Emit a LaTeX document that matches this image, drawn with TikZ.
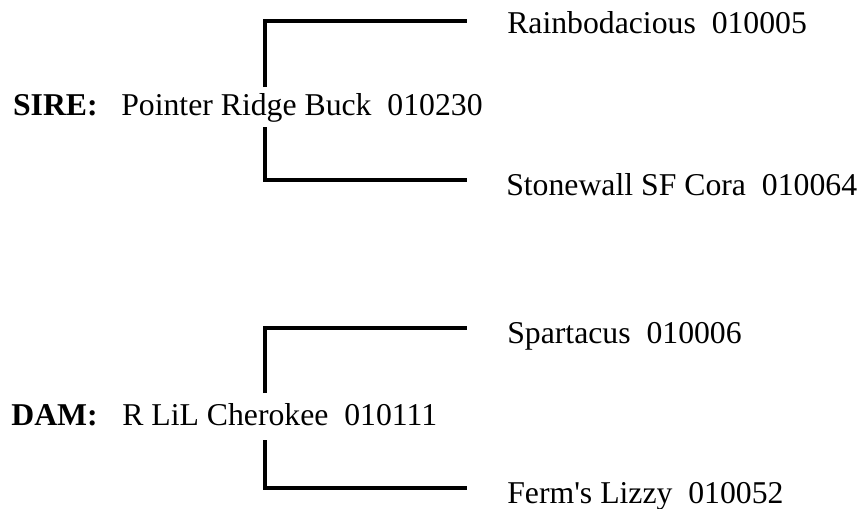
\documentclass[tikz,border=0pt]{standalone}
\usepackage{fontspec}
\setmainfont{Liberation Serif}
\begin{document}
\begin{tikzpicture}[x=0.75pt,y=-0.75pt,
  txt/.style={inner sep=0pt,font=\fontsize{23.8}{28}\selectfont},
  lbl/.style={txt,font=\fontsize{23.8}{28}\selectfont\bfseries,anchor=base east},
  nm/.style={txt,anchor=base west},
  br/.style={line width=2.4pt}]
\useasboundingbox (0,0) rectangle (863,508);
% sire
\node[lbl] (sirel) at (98,115) {SIRE:};
\node[nm] (sire) at (121,115) {Pointer Ridge Buck\ \ 010230};
\node[nm] (ss) at (507,33) {Rainbodacious\ \ 010005};
\node[nm] (sd) at (506,195) {Stonewall SF Cora\ \ 010064};
\coordinate (s1) at (265,87);
\coordinate (s2) at (265,21);
\coordinate (s3) at (467,21);
\coordinate (s4) at (265,127);
\coordinate (s5) at (265,180);
\coordinate (s6) at (467,180);
\draw[br] (s1) -- (s2) -- (s3);
\draw[br] (s4) -- (s5) -- (s6);
% dam
\node[lbl] (daml) at (98,425) {DAM:};
\node[nm] (dam) at (122,425) {R LiL Cherokee\ \ 010111};
\node[nm] (ds) at (507,343) {Spartacus\ \ 010006};
\node[nm] (dd) at (507,503) {Ferm\textquotesingle s Lizzy\ \ 010052};
\coordinate (d1) at (265,393);
\coordinate (d2) at (265,328);
\coordinate (d3) at (467,328);
\coordinate (d4) at (265,440);
\coordinate (d5) at (265,488);
\coordinate (d6) at (467,488);
\draw[br] (d1) -- (d2) -- (d3);
\draw[br] (d4) -- (d5) -- (d6);
\end{tikzpicture}
\end{document}
